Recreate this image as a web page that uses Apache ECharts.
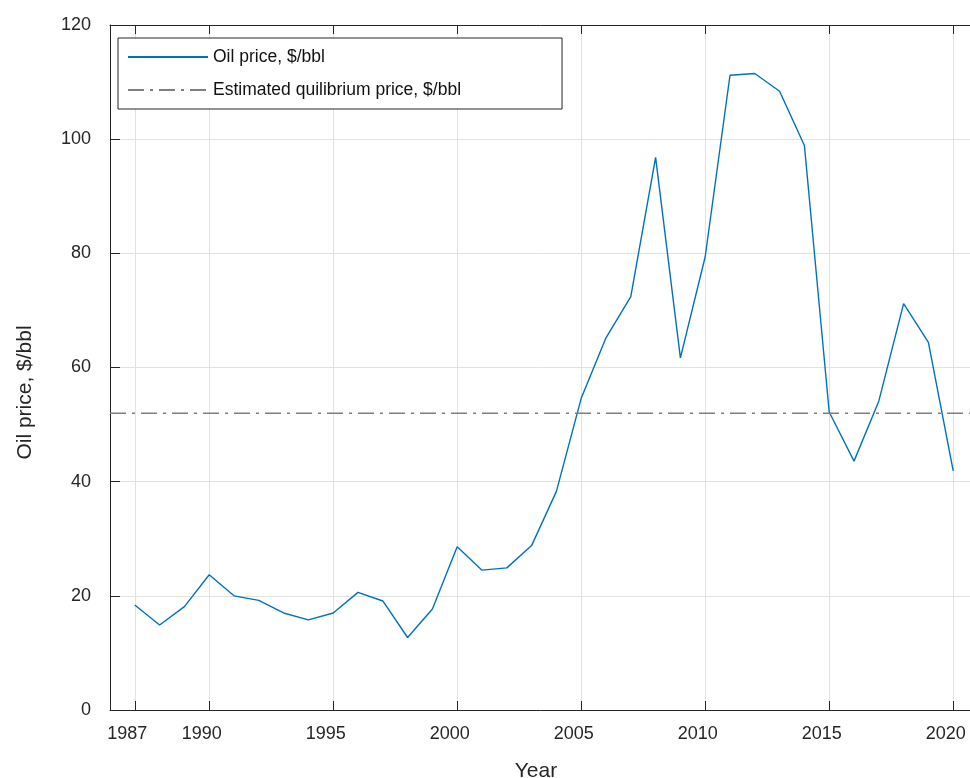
<!DOCTYPE html>
<html>
<head>
<meta charset="utf-8">
<title>Oil price</title>
<script src="https://cdn.jsdelivr.net/npm/echarts@6/dist/echarts.min.js"></script>
<style>
  html, body { margin: 0; padding: 0; background: #fff; }
  #chart { width: 970px; height: 778px; }
</style>
</head>
<body>
<div id="chart"></div>
<script>
// data
const years = [1987, 1988, 1989, 1990, 1991, 1992, 1993, 1994, 1995, 1996,
  1997, 1998, 1999, 2000, 2001, 2002, 2003, 2004, 2005, 2006,
  2007, 2008, 2009, 2010, 2011, 2012, 2013, 2014, 2015, 2016,
  2017, 2018, 2019, 2020];
const oilPrice = [18.4, 14.9, 18.1, 23.7, 20.0, 19.2, 17.0, 15.8, 17.0, 20.6,
  19.1, 12.7, 17.7, 28.6, 24.5, 24.9, 28.8, 38.3, 54.6, 65.2,
  72.4, 96.8, 61.7, 79.4, 111.2, 111.5, 108.4, 98.9, 52.2, 43.6,
  54.1, 71.2, 64.4, 41.9];
const equilibriumPrice = 52;
const xTicks = [1987, 1990, 1995, 2000, 2005, 2010, 2015, 2020];
const xMin = 1986;
const xMax = 2021;

const font = 'Liberation Sans, Arial, Helvetica, sans-serif';
const axisColor = '#262626';
const gridColor = '#e2e2e2';

const chart = echarts.init(document.getElementById('chart'));

const xAxisBase = {
  type: 'value',
  min: xMin,
  max: xMax,
  axisLine: { show: true, lineStyle: { color: axisColor, width: 1 } },
  axisTick: { show: true, inside: true, length: 9, customValues: xTicks,
    lineStyle: { color: axisColor } }
};

chart.setOption({
  animation: false,
  textStyle: { fontFamily: font },
  grid: { left: 110, top: 25, right: -8, bottom: 68, outerBoundsMode: 'none' },
  legend: {
    orient: 'vertical',
    left: 118,
    top: 38,
    padding: [10, 101, 10, 9],
    itemGap: 15,
    itemWidth: 80,
    itemHeight: 14,
    backgroundColor: '#fff',
    borderColor: axisColor,
    borderWidth: 1,
    borderRadius: 0,
    itemStyle: { opacity: 0 },
    textStyle: { fontSize: 17.5, color: '#111', fontFamily: font },
    data: ['Oil price, $/bbl', 'Estimated quilibrium price, $/bbl']
  },
  xAxis: [
    Object.assign({}, xAxisBase, {
      position: 'bottom',
      name: 'Year',
      nameLocation: 'middle',
      nameGap: 51,
      nameMoveOverlap: false,
      nameTextStyle: { fontSize: 21, color: axisColor, fontFamily: font,
        padding: [0, 16, 0, 0] },
      axisLabel: { customValues: xTicks, margin: 15, fontSize: 18,
        color: axisColor, fontFamily: font, padding: [0, 15, 0, 0],
        formatter: v => String(v) },
      splitLine: { show: true, lineStyle: { color: gridColor, width: 1 } }
    }),
    Object.assign({}, xAxisBase, {
      position: 'top',
      axisLabel: { show: false },
      splitLine: { show: false }
    })
  ],
  yAxis: {
    type: 'value',
    min: 0,
    max: 120,
    interval: 20,
    name: 'Oil price, $/bbl',
    nameLocation: 'middle',
    nameGap: 74,
    nameMoveOverlap: false,
    nameTextStyle: { fontSize: 21, color: axisColor, fontFamily: font,
      padding: [0, 50, 0, 0] },
    axisLine: { show: true, lineStyle: { color: axisColor, width: 1 } },
    axisTick: { show: true, inside: true, length: 10, lineStyle: { color: axisColor } },
    axisLabel: { margin: 19, fontSize: 18, color: axisColor, fontFamily: font,
      verticalAlign: 'middle', backgroundColor: 'rgba(255,255,255,0)',
      padding: [0, 0, 8, 0] },
    splitLine: { show: true, lineStyle: { color: gridColor, width: 1 } }
  },
  series: [
    {
      name: 'Oil price, $/bbl',
      type: 'line',
      xAxisIndex: 0,
      showSymbol: false,
      symbol: 'none',
      lineStyle: { color: '#0072BD', width: 1.4 },
      itemStyle: { color: '#0072BD' },
      data: years.map((y, i) => [y, oilPrice[i]])
    },
    {
      name: 'Estimated quilibrium price, $/bbl',
      type: 'line',
      xAxisIndex: 0,
      showSymbol: false,
      symbol: 'none',
      lineStyle: { color: '#7f7f7f', width: 1.5, type: [16, 6, 3, 6] },
      itemStyle: { color: '#7f7f7f' },
      data: [[xMin, equilibriumPrice], [xMax, equilibriumPrice]]
    }
  ]
});
</script>
</body>
</html>
